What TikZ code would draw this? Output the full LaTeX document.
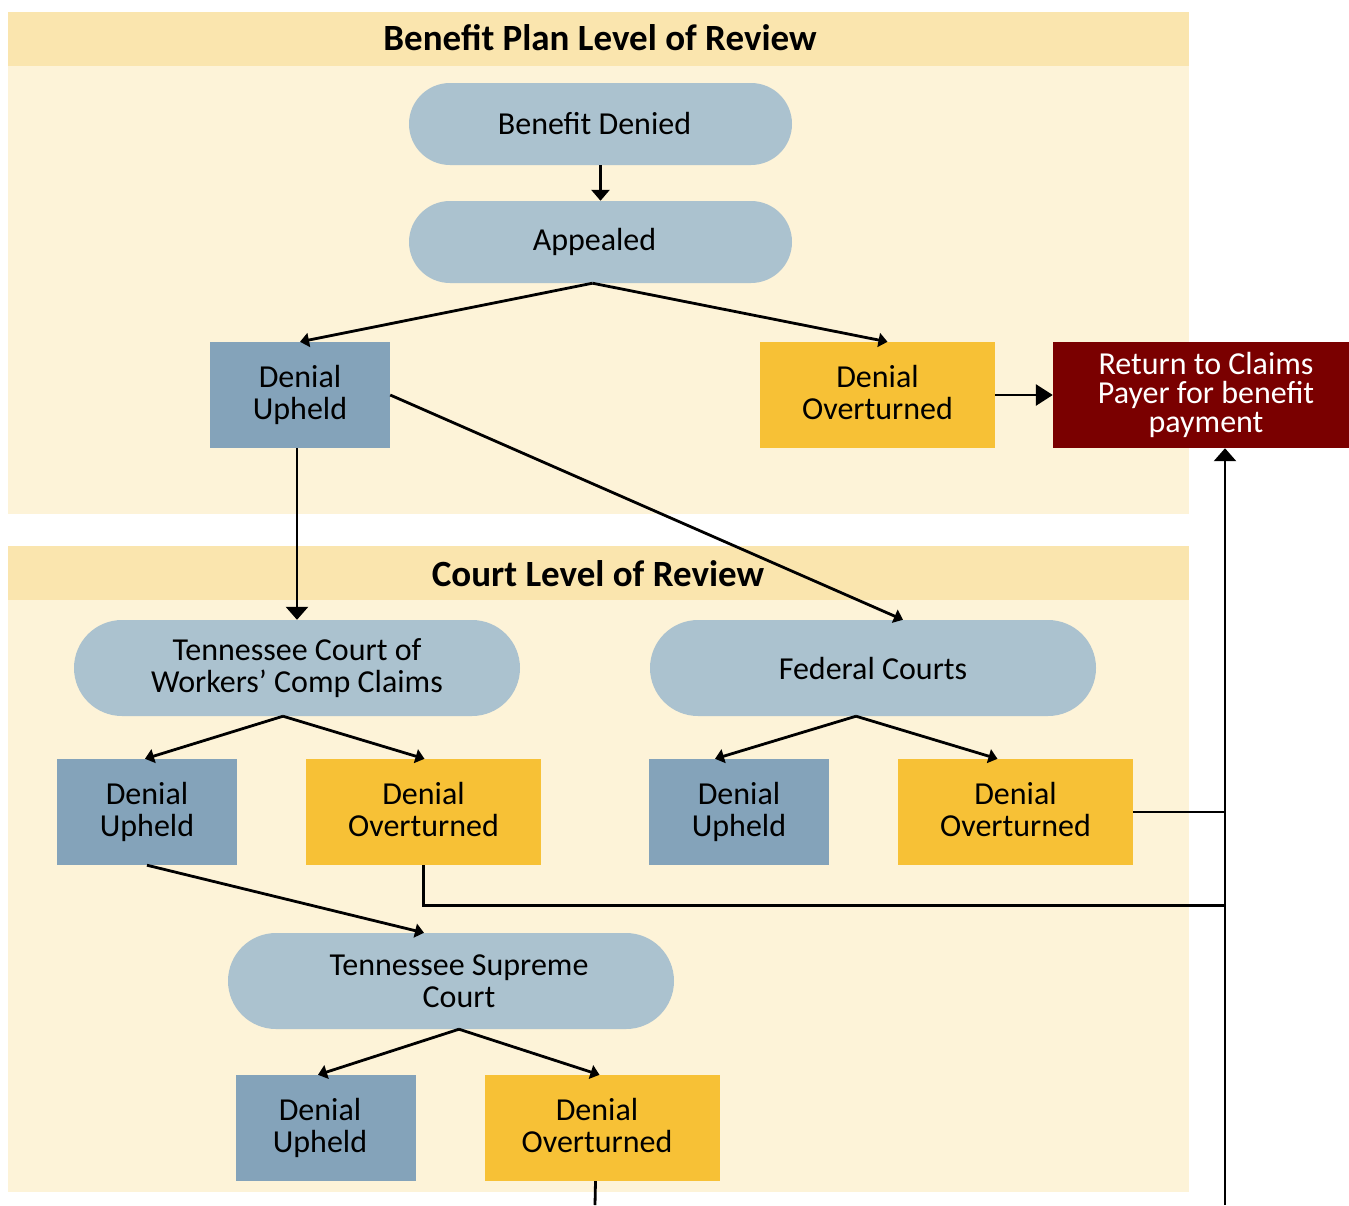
\documentclass[tikz,border=0pt]{standalone}
\usepackage{fontspec}
\setmainfont{Carlito}
\usetikzlibrary{arrows.meta,calc}
\definecolor{hdr}{HTML}{FAE5AE}
\definecolor{bdy}{HTML}{FDF3D8}
\definecolor{pill}{HTML}{ABC2CF}
\definecolor{upc}{HTML}{84A3BA}
\definecolor{ovc}{HTML}{F7C136}
\definecolor{retc}{HTML}{7A0000}
\tikzset{
  txt/.style={font=\fontsize{32}{32}\selectfont},
  pillbox/.style={txt, fill=pill, draw=none, minimum width=383pt, minimum height=82pt, rounded corners=41pt, align=center, inner sep=0pt},
  bigpill/.style={pillbox, minimum width=446pt, minimum height=96pt, rounded corners=48pt},
  upbox/.style={txt, fill=upc, draw=none, minimum width=180pt, minimum height=106pt, align=center, inner sep=0pt},
  ovbox/.style={txt, fill=ovc, draw=none, minimum width=235pt, minimum height=106pt, align=center, inner sep=0pt, text depth=6pt},
  retbox/.style={fill=retc, draw=none, minimum width=296pt, minimum height=106pt, align=center, inner sep=0pt, text=white, font=\fontsize{32}{29}\selectfont},
  conn/.style={line width=2.8pt, draw=black},
  arr/.style={conn, -{Triangle[width=18pt,length=11pt]}},
  barr/.style={conn, -{Triangle[width=22pt,length=13pt]}},
  sarr/.style={conn, -{Triangle[width=14pt,length=9pt]}},
  ttl/.style={font=\fontsize{37}{40}\selectfont\bfseries}
}
\begin{document}
\begin{tikzpicture}[x=1pt,y=-1pt]
\useasboundingbox (0,0) rectangle (1349,1205);
% bands
\fill[bdy] (8,12) rectangle (1189,514);
\fill[hdr] (8,12) rectangle (1189,66);
\fill[bdy] (8,546) rectangle (1189,1192);
\fill[hdr] (8,546) rectangle (1189,600);
\node[ttl] (t1) at (600,38) {Benefit Plan Level of Review};
\node[ttl] (t2) at (598,574) {Court Level of Review};
% nodes
\node[pillbox] (bd) at (600.5,124) {\hspace*{-12pt}Benefit Denied};
\node[pillbox] (ap) at (600.5,242) {\hspace*{-12pt}Appealed};
\node[upbox] (du1) at (300,395) {Denial\\Upheld};
\node[ovbox] (do1) at (877.5,395) {Denial\\Overturned};
\node[retbox] (ret) at (1201,395) {\hspace*{10pt}Return to Claims\\\hspace*{10pt}Payer for benefit\\\hspace*{10pt}payment};
\node[bigpill] (tn) at (297,668) {Tennessee Court of\\Workers’ Comp Claims};
\node[bigpill] (fc) at (873,668) {Federal Courts};
\node[upbox] (du2) at (147,812) {Denial\\Upheld};
\node[ovbox] (do2) at (423.5,812) {Denial\\Overturned};
\node[upbox] (du3) at (739,812) {Denial\\Upheld};
\node[ovbox] (do3) at (1015.5,812) {Denial\\Overturned};
\node[bigpill] (ts) at (451,981) {\hspace*{16pt}Tennessee Supreme\\\hspace*{16pt}Court};
\node[upbox] (du4) at (326,1128) {\hspace*{-12pt}Denial\\\hspace*{-12pt}Upheld};
\node[ovbox] (do4) at (602.5,1128) {\hspace*{-11pt}Denial\\\hspace*{-11pt}Overturned};
\coordinate (jn) at (1225,1205);
\coordinate (bot) at (595,1205);
% connectors
\draw[arr] (bd.south) -- (ap.north);
\draw[sarr] ($(ap.south)+(-8,0)$) -- ($(du1.north)+(0,0)$);
\draw[sarr] ($(ap.south)+(-8,0)$) -- ($(do1.north)+(10,0)$);
\draw[conn, -{Triangle[width=21pt,length=17pt]}] (do1.east) -- (ret.west);
\draw[barr] ($(du1.south)+(-3,0)$) -- ($(tn.north)+(0,0)$);
\draw[sarr] (du1.east) -- ($(fc.north)+(30,0)$);
\draw[sarr] ($(tn.south)+(-14,0)$) -- ($(du2.north)+(-2,0)$);
\draw[sarr] ($(tn.south)+(-14,0)$) -- ($(do2.north)+(1,0)$);
\draw[sarr] ($(fc.south)+(-17,0)$) -- ($(du3.north)+(-24,0)$);
\draw[sarr] ($(fc.south)+(-17,0)$) -- ($(do3.north)+(-18,0)$);
\draw[sarr] (du2.south) -- ($(ts.north)+(-27,0)$);
\draw[sarr] ($(ts.south)+(8,0)$) -- ($(du4.north)+(-8,0)$);
\draw[sarr] ($(ts.south)+(8,0)$) -- ($(do4.north)+(-3,0)$);
\draw[conn] (do3.east) -- (do3.east -| jn);
\draw[conn] (do2.south) -- ($(do2.south)+(0,40)$) -- ($(jn |- do2.south)+(0,40)$);
\draw[barr] (jn) -- (jn |- ret.south);
\draw[conn] ($(do4.south)+(-7,0)$) -- (bot);
\end{tikzpicture}
\end{document}
